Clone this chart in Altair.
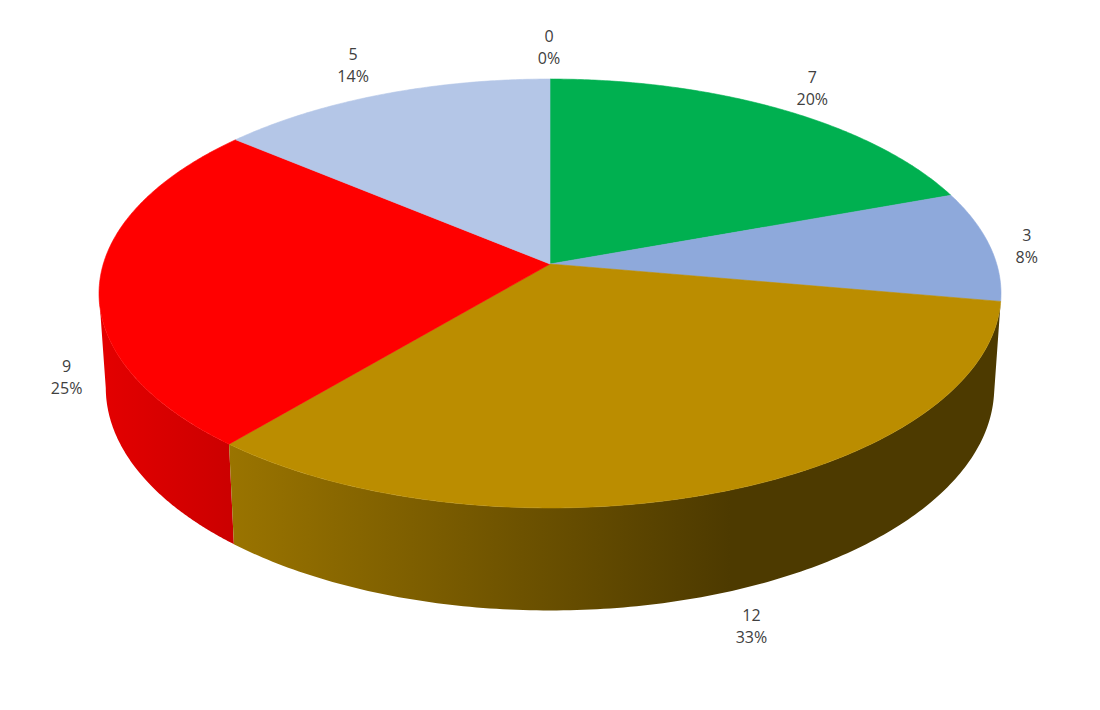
import numpy as np
import pandas as pd
import altair as alt

values = [0, 7, 3, 12, 9, 5]
percents = ["0%", "20%", "8%", "33%", "25%", "14%"]
colors = ["#A5A5A5", "#00B050", "#8EA9DB", "#BB8D00", "#FF0000", "#B4C6E7"]
label_dx = [-1, 32, 37, 26, -33, -29]
label_dy = [-32, -21, 0, 135, 94, -29]

K = 0.1375
TOP = dict(cy=264.0, a=446.7, b=210.4)
BOTTOM = dict(cy=357.0, a=440.0, b=218.6)

x_enc = alt.X("x:Q", scale=alt.Scale(domain=[8, 1092], nice=False, zero=False), axis=None)
y_enc = alt.Y("y:Q", scale=alt.Scale(domain=[702, 8], nice=False, zero=False), axis=None)


def project(deg, disc):
    t = np.radians(np.asarray(deg, dtype=float))
    sx, cy = np.sin(t), np.cos(t)
    d = 1 + K * cy
    return 550 + disc["a"] * sx / d, disc["cy"] - disc["b"] * cy / d


total = sum(values)
cum = np.cumsum([0] + values) / total * 360


def polygon(df, fill, stroke):
    df = df.assign(i=np.arange(len(df)))
    return alt.Chart(df).mark_line(fill=fill, stroke=stroke, strokeWidth=0.6).encode(
        x=x_enc, y=y_enc, order="i:Q"
    )


def wall(a0, a1, stops):
    ts = np.linspace(a0, a1, 160)
    x1, y1 = project(ts, TOP)
    x2, y2 = project(ts[::-1], BOTTOM)
    df = pd.DataFrame({"x": np.r_[x1, x2, x1[0]], "y": np.r_[y1, y2, y1[0]]})
    grad = alt.Gradient(
        gradient="linear", x1=0, y1=0, x2=1, y2=0,
        stops=[alt.GradientStop(offset=o, color=c) for o, c in stops],
    )
    return polygon(df, grad, "#00000000")


def face(a0, a1, color):
    ts = np.linspace(a0, a1, max(int(a1 - a0) * 2, 2))
    x, y = project(ts, TOP)
    df = pd.DataFrame({"x": np.r_[550, x, 550], "y": np.r_[TOP["cy"], y, TOP["cy"]]})
    return polygon(df, color, color)


walls = [
    wall(cum[4], 262, [(0, "#E40000"), (1, "#CB0000")]),
    wall(cum[3], cum[4], [(0, "#9A7400"), (0.65, "#4D3A00"), (1, "#4D3A00")]),
]
faces = [face(cum[i], cum[i + 1], colors[i]) for i in range(len(values)) if values[i] > 0]

mids = (cum[:-1] + cum[1:]) / 2
rx, ry = project(mids, TOP)
labels = pd.DataFrame({
    "x": rx + np.array(label_dx),
    "y": ry + np.array(label_dy),
    "t": [f"{v}\n{p}" for v, p in zip(values, percents)],
})
text = alt.Chart(labels).mark_text(
    font="Open Sans", fontSize=16, color="#404040", lineBreak="\n", lineHeight=22,
    align="center", baseline="middle", dy=-10,
).encode(x=x_enc, y=y_enc, text="t:N")

chart = alt.layer(*walls, *faces, text).properties(
    width=1084, height=694, padding=0,
    autosize=alt.AutoSizeParams(type="none"), background="white",
).configure_view(stroke=None)

chart.save("out.html", embed_options={"renderer": "svg", "actions": False})
